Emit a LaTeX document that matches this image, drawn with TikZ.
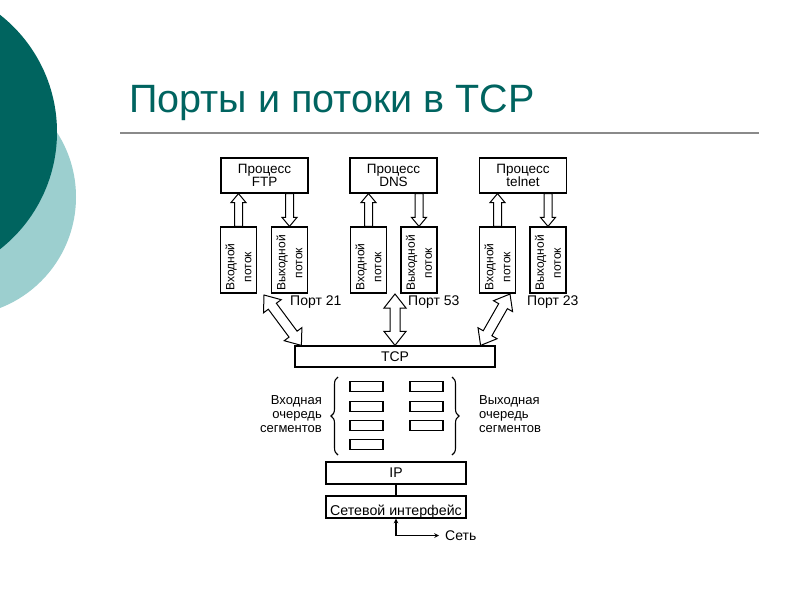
\documentclass[tikz,border=0pt]{standalone}
\usepackage{fontspec}
\setmainfont{Liberation Sans}
\usetikzlibrary{calc,decorations.pathreplacing}
\definecolor{tealdark}{HTML}{00645F}
\definecolor{teallight}{HTML}{9CCFCF}
\definecolor{titleteal}{HTML}{006460}
\definecolor{rulegray}{HTML}{8A8A8A}

% single hollow arrow from #1 to #2 (tip at #2); #3 half shaft, #4 half head, #5 head length
\newcommand{\sarrow}[5]{%
  \coordinate (sa-c) at ($(#2)!#5!(#1)$);
  \draw[arr] ($(#1)!#3!90:(#2)$) -- ($(sa-c)!#3!90:(#2)$) -- ($(sa-c)!#4!90:(#2)$) -- (#2)
     -- ($(sa-c)!#4!-90:(#2)$) -- ($(sa-c)!#3!-90:(#2)$) -- ($(#1)!#3!-90:(#2)$) -- cycle;}
% double hollow arrow between #1 and #2
\newcommand{\darrow}[5]{%
  \coordinate (da-c) at ($(#2)!#5!(#1)$);
  \coordinate (da-d) at ($(#1)!#5!(#2)$);
  \draw[arr] (#1) -- ($(da-d)!#4!90:(#2)$) -- ($(da-d)!#3!90:(#2)$) -- ($(da-c)!#3!90:(#2)$)
     -- ($(da-c)!#4!90:(#2)$) -- (#2) -- ($(da-c)!#4!-90:(#2)$) -- ($(da-c)!#3!-90:(#2)$)
     -- ($(da-d)!#3!-90:(#2)$) -- ($(da-d)!#4!-90:(#2)$) -- cycle;}

\tikzset{
  box/.style={draw, line width=1.2pt, inner sep=0pt, align=center,
    font=\fontsize{13.5}{12.5}\selectfont},
  procbox/.style={box, minimum width=87pt, minimum height=35pt},
  streambox/.style={box, minimum width=36pt, minimum height=66pt},
  rot/.style={rotate=90, align=center, inner sep=0pt, font=\fontsize{12}{17}\selectfont},
  arr/.style={draw, line width=1pt, fill=white, line join=miter},
  lbl/.style={inner sep=0pt, font=\fontsize{14}{14}\selectfont},
  qlbl/.style={inner sep=0pt, font=\fontsize{13}{14}\selectfont},
  qbox/.style={draw, line width=1.1pt, minimum width=33pt, minimum height=10pt, inner sep=0pt},
  brace/.style={decorate, decoration={brace, amplitude=7pt}, line width=1.1pt},
}

\begin{document}
\begin{tikzpicture}[x=1pt, y=-1pt]
\clip (0,0) rectangle (800,600);
\fill[white] (0,0) rectangle (800,600);
% decorative circles
\fill[teallight] (-43,197) circle (119);
\fill[tealdark] (-92,132) circle (149);
% title
\node[anchor=base west, inner sep=0pt, text=titleteal, font=\fontsize{39.5}{40}\selectfont] (title) at (129,112) {Порты и потоки в TCP};
\draw[rulegray, line width=1.6pt] (120,133) -- (759,133);

% process boxes
\node[procbox] (ftp) at (264.5,175.5) {Процесс\\FTP};
\node[procbox] (dns) at (393.5,175.5) {Процесс\\DNS};
\node[procbox] (tel) at (523,175.5) {Процесс\\telnet};

% stream boxes
\node[streambox] (ftpIn) at (238.5,260) {};
\node[streambox] (ftpOut) at (289.5,260) {};
\node[streambox] (dnsIn) at (368.5,260) {};
\node[streambox] (dnsOut) at (419,260) {};
\node[streambox] (telIn) at (497.5,260) {};
\node[streambox] (telOut) at (548,260) {};
\node[rot] (ftpInT) at ($(ftpIn.center)+(0,7)$) {Входной\\поток};
\node[rot] (ftpOutT) at ($(ftpOut.center)+(0,3)$) {Выходной\\поток};
\node[rot] (dnsInT) at ($(dnsIn.center)+(0,7)$) {Входной\\поток};
\node[rot] (dnsOutT) at ($(dnsOut.center)+(0,3)$) {Выходной\\поток};
\node[rot] (telInT) at ($(telIn.center)+(0,7)$) {Входной\\поток};
\node[rot] (telOutT) at ($(telOut.center)+(0,3)$) {Выходной\\поток};

% small arrows
\coordinate (ftpA) at (ftpIn.north |- ftp.south);
\coordinate (ftpB) at (ftpOut.north |- ftp.south);
\coordinate (dnsA) at (dnsIn.north |- dns.south);
\coordinate (dnsB) at (dnsOut.north |- dns.south);
\coordinate (telA) at (telIn.north |- tel.south);
\coordinate (telB) at (telOut.north |- tel.south);
\sarrow{ftpIn.north}{ftpA}{4pt}{7.5pt}{9pt}
\sarrow{ftpB}{ftpOut.north}{4pt}{7.5pt}{9pt}
\sarrow{dnsIn.north}{dnsA}{4pt}{7.5pt}{9pt}
\sarrow{dnsB}{dnsOut.north}{4pt}{7.5pt}{9pt}
\sarrow{telIn.north}{telA}{4pt}{7.5pt}{9pt}
\sarrow{telB}{telOut.north}{4pt}{7.5pt}{9pt}

% port labels
\node[lbl, anchor=west] (port21) at (290,302) {Порт 21};
\node[lbl, anchor=west] (port53) at (408,302) {Порт 53};
\node[lbl, anchor=west] (port23) at (527,302) {Порт 23};

% TCP
\node[box, minimum width=200pt, minimum height=21pt, font=\fontsize{14}{14}\selectfont] (tcp) at (395,356.5) {TCP};
\coordinate (p21) at (264,295);
\coordinate (t21) at ($(tcp.north west)+(7,0)$);
\coordinate (p53) at (395,294);
\coordinate (p23) at (510,294);
\coordinate (t23) at ($(tcp.north east)+(-15,0)$);
\darrow{t21}{p21}{5pt}{11pt}{14pt}
\darrow{tcp.north}{p53}{5pt}{11pt}{14pt}
\darrow{t23}{p23}{5pt}{11pt}{14pt}

% queues
\foreach \i/\yy in {1/386.5,2/406.5,3/425.5,4/444.5}
  \node[qbox] (qin\i) at (366.5,\yy) {};
\foreach \i/\yy in {1/386.5,2/406.5,3/425.5}
  \node[qbox] (qout\i) at (426.5,\yy) {};
\coordinate (lbA) at (338,455);
\coordinate (lbB) at (338,377);
\coordinate (rbA) at (452,377);
\coordinate (rbB) at (452,455);
\draw[brace] (lbA) -- (lbB);
\draw[brace] (rbA) -- (rbB);
\node[qlbl, anchor=east, align=right] (qinT) at (322,414) {Входная\\очередь\\сегментов};
\node[qlbl, anchor=west, align=left] (qoutT) at (479,414) {Выходная\\очередь\\сегментов};

% IP and network interface
\node[box, minimum width=140pt, minimum height=22pt, font=\fontsize{14}{14}\selectfont] (ip) at (396,473) {IP};
\node[box, minimum width=140pt, minimum height=22pt] (net) at (396,507) {};
\node[lbl, font=\fontsize{14.2}{14}\selectfont] (netT) at (396,512) {Сетевой интерфейс};
\draw[line width=1.1pt] (ip.south) -- (net.north);
\coordinate (netIn) at (net.south);
\coordinate (corner) at ($(net.south)+(0,17)$);
\coordinate (netEnd) at ($(corner)+(43,0)$);
\draw[line width=1.1pt, <->, >=stealth] (netIn) -- (corner) -- (netEnd);
\node[lbl, anchor=west] (set) at ($(netEnd)+(6,0)$) {Сеть};
\end{tikzpicture}
\end{document}
